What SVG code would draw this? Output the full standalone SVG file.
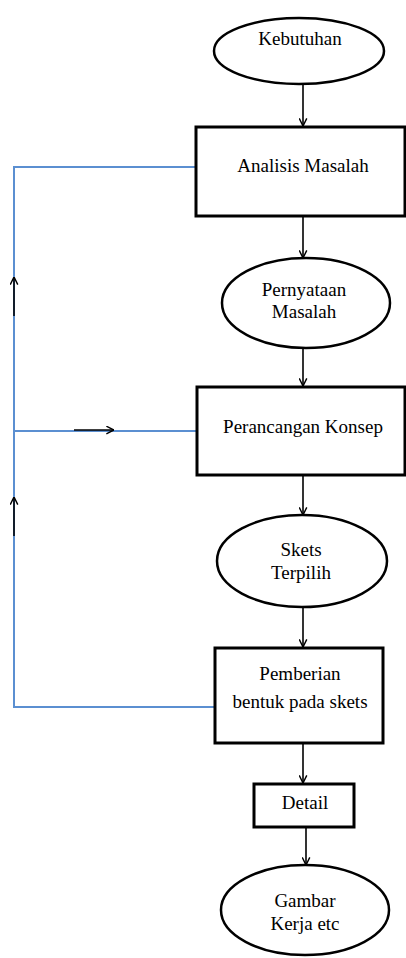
<svg xmlns="http://www.w3.org/2000/svg" width="406" height="958" viewBox="0 0 406 958">
<style>
.box{fill:#fff;stroke:#000;stroke-width:3}
.ell{fill:#fff;stroke:#000;stroke-width:2.5}
.t{font-family:"Liberation Serif","Times New Roman",serif;font-size:19px;fill:#000;text-anchor:middle}
.c{fill:none;stroke:#000;stroke-width:1.6}
.fb{fill:none;stroke:#5b8fd1;stroke-width:2}
</style>
<defs>
<marker id="ah" viewBox="0 0 10 10" refX="9.5" refY="5" markerWidth="9" markerHeight="9" markerUnits="userSpaceOnUse" orient="auto">
<path d="M1,0.8 L9.5,5 L1,9.2" fill="none" stroke="#000" stroke-width="1.6"/>
</marker>
</defs>
<rect width="406" height="958" fill="#fff"/>
<g id="connectors">
<path class="fb" d="M196,167 H14 V707 H215"/>
<path class="fb" d="M14,431 H197"/>
<line class="c" x1="303" y1="84" x2="303" y2="126" marker-end="url(#ah)"/>
<line class="c" x1="303" y1="216" x2="303" y2="258" marker-end="url(#ah)"/>
<line class="c" x1="303" y1="348" x2="303" y2="386" marker-end="url(#ah)"/>
<line class="c" x1="303" y1="475" x2="303" y2="515" marker-end="url(#ah)"/>
<line class="c" x1="303" y1="607" x2="303" y2="647" marker-end="url(#ah)"/>
<line class="c" x1="303" y1="743" x2="303" y2="783" marker-end="url(#ah)"/>
<line class="c" x1="306" y1="827" x2="306" y2="865" marker-end="url(#ah)"/>
<line class="c" x1="14" y1="316" x2="14" y2="277" marker-end="url(#ah)"/>
<line class="c" x1="14" y1="536" x2="14" y2="497" marker-end="url(#ah)"/>
<line class="c" x1="74" y1="430" x2="114" y2="430" marker-end="url(#ah)"/>
</g>
<g id="kebutuhan">
<ellipse class="ell" cx="299" cy="51" rx="85" ry="33"/>
<text class="t" x="300" y="45">Kebutuhan</text>
</g>
<g id="analisis">
<rect class="box" x="196" y="127" width="209" height="89"/>
<text class="t" x="303" y="172">Analisis Masalah</text>
</g>
<g id="pernyataan">
<ellipse class="ell" cx="306" cy="303" rx="84" ry="45"/>
<text class="t" x="304" y="296">Pernyataan</text>
<text class="t" x="304" y="318">Masalah</text>
</g>
<g id="perancangan">
<rect class="box" x="197" y="387" width="208" height="88"/>
<text class="t" x="303" y="433">Perancangan Konsep</text>
</g>
<g id="skets">
<ellipse class="ell" cx="302" cy="561" rx="85" ry="46"/>
<text class="t" x="301" y="556">Skets</text>
<text class="t" x="301" y="579">Terpilih</text>
</g>
<g id="pemberian">
<rect class="box" x="215" y="648" width="168" height="95"/>
<text class="t" x="300" y="680">Pemberian</text>
<text class="t" x="300" y="708">bentuk pada skets</text>
</g>
<g id="detail">
<rect class="box" x="254" y="784" width="100" height="43"/>
<text class="t" x="305" y="809">Detail</text>
</g>
<g id="gambar">
<ellipse class="ell" cx="305" cy="910" rx="84" ry="45"/>
<text class="t" x="305" y="907">Gambar</text>
<text class="t" x="305" y="930">Kerja etc</text>
</g>
</svg>
